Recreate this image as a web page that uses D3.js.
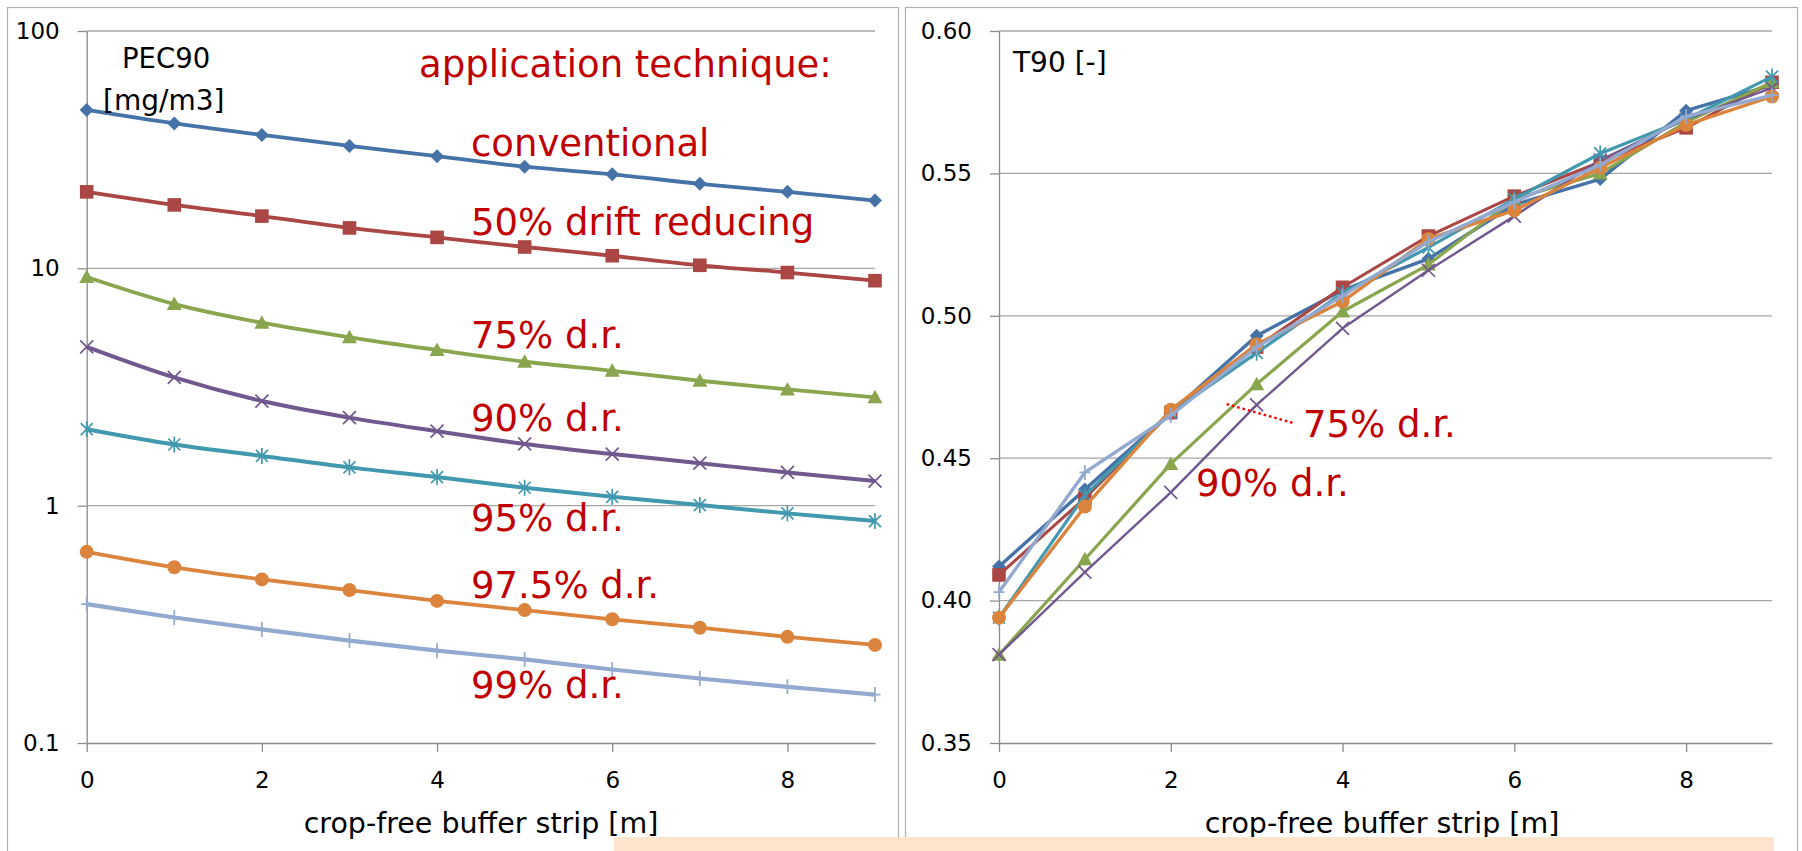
<!DOCTYPE html>
<html>
<head>
<meta charset="utf-8">
<script src="https://cdn.jsdelivr.net/npm/d3@7/dist/d3.min.js"></script>
<style>
html, body { margin: 0; padding: 0; background: #fff; }
svg { display: block; font-family: "DejaVu Sans", sans-serif; }
</style>
</head>
<body>
<svg id="chart" width="1802" height="851"></svg>
<script>

// buffer strip width [m]
var stripWidths = [0, 1, 2, 3, 4, 5, 6, 7, 8, 9];
var stripTicks = [0, 2, 4, 6, 8];

var techniques = ["conventional", "50% drift reducing", "75% d.r.", "90% d.r.", "95% d.r.", "97.5% d.r.", "99% d.r."];

// PEC90 [mg/m3], log axis
var pecConventional = [46.5, 40.8, 36.5, 32.8, 29.7, 26.8, 24.9, 22.7, 21.0, 19.3];
var pecDrift50      = [21.0, 18.5, 16.6, 14.8, 13.5, 12.3, 11.3, 10.3, 9.6, 8.87];
var pecDrift75      = [9.19, 7.07, 5.90, 5.12, 4.53, 4.04, 3.70, 3.36, 3.09, 2.86];
var pecDrift90      = [4.67, 3.47, 2.76, 2.35, 2.06, 1.82, 1.65, 1.51, 1.38, 1.27];
var pecDrift95      = [2.10, 1.81, 1.62, 1.45, 1.32, 1.19, 1.09, 1.006, 0.928, 0.861];
var pecDrift975     = [0.639, 0.550, 0.489, 0.441, 0.397, 0.363, 0.332, 0.306, 0.280, 0.259];
var pecDrift99      = [0.385, 0.338, 0.301, 0.270, 0.245, 0.225, 0.204, 0.187, 0.1725, 0.160];
var pecTicks = [0.1, 1, 10, 100];

// T90 [-]
var t90Conventional = [0.412, 0.439, 0.466, 0.493, 0.509, 0.520, 0.539, 0.548, 0.572, 0.581];
var t90Drift50      = [0.409, 0.436, 0.466, 0.489, 0.510, 0.528, 0.542, 0.554, 0.566, 0.582];
var t90Drift75      = [0.381, 0.4145, 0.448, 0.476, 0.5015, 0.518, 0.541, 0.550, 0.568, 0.582];
var t90Drift90      = [0.381, 0.410, 0.438, 0.4687, 0.4956, 0.516, 0.535, 0.5547, 0.569, 0.580];
var t90Drift95      = [0.394, 0.437, 0.466, 0.487, 0.508, 0.524, 0.541, 0.557, 0.569, 0.584];
var t90Drift975     = [0.394, 0.433, 0.467, 0.490, 0.505, 0.527, 0.537, 0.552, 0.567, 0.577];
var t90Drift99      = [0.403, 0.445, 0.465, 0.489, 0.507, 0.526, 0.540, 0.553, 0.570, 0.5775];
var t90Ticks = [0.35, 0.40, 0.45, 0.50, 0.55, 0.60];

var colors  = ["#4572a7", "#aa4643", "#89a54e", "#71588f", "#4198af", "#db843d", "#93a9cf"];
var markers = ["diamond", "square", "triangle", "cross", "star", "circle", "plus"];

var pecSeries = [pecConventional, pecDrift50, pecDrift75, pecDrift90, pecDrift95, pecDrift975, pecDrift99];
var t90Series = [t90Conventional, t90Drift50, t90Drift75, t90Drift90, t90Drift95, t90Drift975, t90Drift99];

var svg = d3.select("#chart");
var red = "#c00000";

// panel frames
svg.append("rect").attr("x", 7.5).attr("y", 7.5).attr("width", 891).attr("height", 860)
    .attr("fill", "#fff").attr("stroke", "#b0b0b0").attr("stroke-width", 1.2);
svg.append("rect").attr("x", 905.5).attr("y", 7.5).attr("width", 892).attr("height", 860)
    .attr("fill", "#fff").attr("stroke", "#b0b0b0").attr("stroke-width", 1.2);

var markerPath = {
    diamond:  "M0,-7L7,0L0,7L-7,0Z",
    square:   "M-6.8,-6.8H6.8V6.8H-6.8Z",
    triangle: "M0,-7.5L7.5,6H-7.5Z",
    cross:    "M-6.5,-6.5L6.5,6.5M-6.5,6.5L6.5,-6.5",
    star:     "M-6,-6L6,6M-6,6L6,-6M0,-8V8",
    plus:     "M-5.5,0H5.5M0,-7.5V7.5"
};

function drawPanel(g, x, y, ticks, fmt, series, curve, lineWidths) {
    var x0 = x.range()[0], x1 = x.range()[1];

    // horizontal gridlines
    g.append("g").selectAll("line")
        .data(ticks.slice(1))
      .enter().append("line")
        .attr("x1", x0).attr("x2", x1)
        .attr("y1", function(d) { return y(d); })
        .attr("y2", function(d) { return y(d); })
        .attr("stroke", "#a6a6a6").attr("stroke-width", 1.3);

    var yAxis = g.append("g")
        .attr("transform", "translate(" + x0 + ",0)")
        .call(d3.axisLeft(y).tickValues(ticks).tickFormat(fmt).tickSize(9).tickSizeOuter(0).tickPadding(18));

    var xAxis = g.append("g")
        .attr("transform", "translate(0," + y.range()[0] + ")")
        .call(d3.axisBottom(x).tickValues(stripTicks).tickSize(9).tickSizeOuter(0).tickPadding(20));

    [yAxis, xAxis].forEach(function(a) {
        a.select(".domain").attr("stroke", "#8c8c8c").attr("stroke-width", 1.3);
        a.selectAll(".tick line").attr("stroke", "#8c8c8c").attr("stroke-width", 1.3);
        a.selectAll(".tick text").attr("fill", "#000").style("font-size", "23px")
            .style("font-family", "'DejaVu Sans', sans-serif");
    });

    var line = d3.line()
        .x(function(d, i) { return x(stripWidths[i]); })
        .y(function(d) { return y(d); })
        .curve(curve);

    series.forEach(function(vals, s) {
        var sg = g.append("g").attr("class", "series");
        sg.append("path")
            .attr("d", line(vals))
            .attr("fill", "none")
            .attr("stroke", colors[s])
            .attr("stroke-width", lineWidths[s])
            .attr("stroke-linejoin", "round");

        var pts = sg.selectAll(".pt")
            .data(vals)
          .enter().append("g")
            .attr("class", "pt")
            .attr("transform", function(d, i) { return "translate(" + x(stripWidths[i]) + "," + y(d) + ")"; });

        var m = markers[s];
        if (m == "circle") {
            pts.append("circle").attr("r", 7).attr("fill", colors[s]);
        } else if (m == "cross" || m == "star" || m == "plus") {
            pts.append("path").attr("d", markerPath[m]).attr("fill", "none")
                .attr("stroke", colors[s]).attr("stroke-width", 1.7);
        } else {
            pts.append("path").attr("d", markerPath[m]).attr("fill", colors[s]);
        }
    });
}

// left panel: PEC90
var xL = d3.scaleLinear().domain([0, 9]).range([86.7, 875]);
var yL = d3.scaleLog().domain([0.1, 100]).range([743, 31]);
var left = svg.append("g");
drawPanel(left, xL, yL, pecTicks, function(d) { return String(d); }, pecSeries,
    d3.curveCatmullRom.alpha(0.5), [3.8, 3.8, 3.8, 4, 4, 3.8, 4.2]);

// right panel: T90
var xR = d3.scaleLinear().domain([0, 9]).range([999, 1772]);
var yR = d3.scaleLinear().domain([0.35, 0.60]).range([743, 31]);
var right = svg.append("g");
drawPanel(right, xR, yR, t90Ticks, d3.format(".2f"), t90Series,
    d3.curveLinear, [3.4, 3, 3.2, 2.4, 3.2, 3.4, 3.4]);

// axis titles and units
function txt(x, y, s, size, fill) {
    return svg.append("text").attr("x", x).attr("y", y).text(s)
        .style("font-size", size + "px").attr("fill", fill || "#000");
}
txt(481, 833, "crop-free buffer strip [m]", 28.5).attr("text-anchor", "middle");
txt(1382, 833, "crop-free buffer strip [m]", 28.5).attr("text-anchor", "middle");
txt(122, 68, "PEC90", 27.5);
txt(103, 110, "[mg/m3]", 28);
txt(1013, 72, "T90 [-]", 28);

// technique labels
txt(419, 77, "application technique:", 37, red);
var leftLabelY = [156, 235, 348, 431, 531, 598, 698];
techniques.forEach(function(t, i) {
    txt(471, leftLabelY[i], t, 37, red);
});

// right panel callouts
svg.append("line")
    .attr("x1", xR(2.65)).attr("y1", yR(0.469))
    .attr("x2", xR(3.42)).attr("y2", yR(0.4624))
    .attr("stroke", "#ff0000").attr("stroke-width", 2.5)
    .attr("stroke-dasharray", "2.5,3");
txt(1303, 437, techniques[2], 37, red);
txt(1196, 496, techniques[3], 37, red);

// peach strip at the bottom
svg.append("rect").attr("x", 614).attr("y", 837).attr("width", 1160).attr("height", 20)
    .attr("fill", "#fde4cd");

</script>
</body>
</html>
